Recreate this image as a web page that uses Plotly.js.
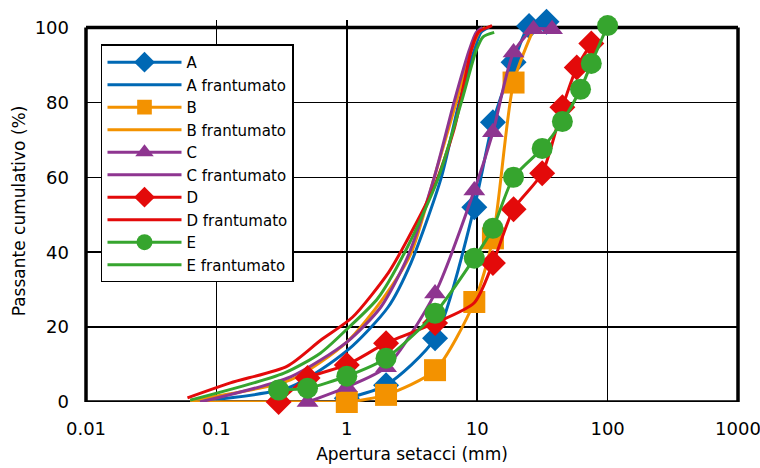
<!DOCTYPE html>
<html>
<head>
<meta charset="utf-8">
<script src="https://cdn.plot.ly/plotly-3.0.1.min.js"></script>
<style>html,body{margin:0;padding:0;background:#fff;}#chart{width:760px;height:468px;}</style>
</head>
<body>
<div id="chart"></div>
<script>
// ---- Data ----
// Sample A (markers)
const A_x = [1, 2, 4.75, 9.5, 13.2, 19, 25, 34];
const A_y = [1, 4.5, 17, 52, 74.7, 90.7, 100.4, 101.5];
// A frantumato
const AF_x = [0.063, 0.37, 1.02, 2.07, 3.1, 5.28, 7.27, 9.48, 10.7, 12.3];
const AF_y = [0, 4, 13.9, 25.3, 37.1, 59.7, 80, 93.9, 98.7, 100];
// Sample B
const B_x = [0.063, 0.5, 1, 2, 4.75, 9.5, 13.2, 19, 27];
const B_y = [0, 0, 0, 1.9, 8.5, 26.7, 43.7, 85.3, 99.5];
const B_hidden = [true, true, false, false, false, false, false, false, true];
// B frantumato
const BF_x = [0.063, 0.37, 1.0, 1.9, 3.1, 4.66, 6.9, 9.0, 10.4, 11.5];
const BF_y = [0.5, 5.9, 16, 27.7, 39.6, 59.7, 80, 93.9, 99, 100];
// Sample C
const C_x = [0.5, 1, 2, 4.75, 9.5, 13.2, 19, 27, 37.5];
const C_y = [0, 4, 9.3, 29, 56.5, 72, 93.3, 99.5, 99.5];
// C frantumato
const CF_x = [0.075, 0.37, 1.0, 1.82, 2.94, 4.66, 6.64, 8.68, 9.83, 11];
const CF_y = [0, 6.7, 16, 25.3, 38.9, 59.7, 80, 93.9, 98.7, 100];
// Sample D
const D_x = [0.3, 0.5, 1, 2, 4.75, 9.5, 13.2, 19, 31.5, 45, 58, 75];
const D_y = [0, 6.4, 9.9, 15.7, 21.1, 26.5, 37.1, 51.5, 61.1, 78.7, 89.3, 95.7];
const D_hidden = [false, false, false, false, false, true, false, false, false, false, false, false];
// D frantumato
const DF_x = [0.06, 0.128, 0.35, 0.63, 1.11, 2.1, 2.9, 4.66, 6.7, 9.0, 10.2, 13];
const DF_y = [1.1, 5.1, 9.6, 16.5, 22.7, 34.7, 43.2, 57.3, 73.3, 93.9, 98.7, 100.5];
// Sample E
const E_x = [0.3, 0.5, 1, 2, 4.75, 9.5, 13.2, 19, 31.5, 45, 62, 75, 100];
const E_y = [3.2, 3.7, 6.9, 11.7, 23.7, 38.4, 46.4, 60, 67.7, 74.9, 83.5, 90.4, 100.5];
// E frantumato
const EF_x = [0.063, 0.33, 0.63, 1.02, 1.73, 2.94, 5.01, 7.55, 9.83, 11.1, 13.5];
const EF_y = [0.5, 7.7, 13.1, 19.7, 27.7, 41.6, 59.7, 80, 93.9, 97.5, 98.7];

const xTickVals = [0.01, 0.1, 1, 10, 100, 1000];
const xTickText = ['0.01', '0.1', '1', '10', '100', '1000'];
const yTickVals = [0, 20, 40, 60, 80, 100];

// ---- Styles ----
const COL = {A:'#0068b4', B:'#f39200', C:'#8e3590', D:'#e30a0a', E:'#36a52e'};
const LW = 3;

function sizes(hidden, s){ return hidden.map(h => h ? 0 : s); }

function mk(name, x, y, color, symbol, size, group){
  return {type:'scatter', mode:'lines+markers', name, x, y, legendgroup:group,
    line:{color, width:LW, shape:'spline', smoothing:0.7},
    marker:{color, symbol, size, opacity:1, line:{width:0}}, cliponaxis:false};
}
function ln(name, x, y, color, group){
  return {type:'scatter', mode:'lines', name, x, y, legendgroup:group,
    line:{color, width:LW, shape:'spline', smoothing:0.7}, cliponaxis:false};
}

const traces = [
  mk('A', A_x, A_y, COL.A, 'diamond', 20, 'A'),
  ln('A frantumato', AF_x, AF_y, COL.A, 'A'),
  mk('B', B_x, B_y, COL.B, 'square', 22, 'B'),
  ln('B frantumato', BF_x, BF_y, COL.B, 'B'),
  mk('C', C_x, C_y, COL.C, 'triangle-up', 19, 'C'),
  ln('C frantumato', CF_x, CF_y, COL.C, 'C'),
  mk('D', D_x, D_y, COL.D, 'diamond', 20, 'D'),
  ln('D frantumato', DF_x, DF_y, COL.D, 'D'),
  mk('E', E_x, E_y, COL.E, 'circle', 21, 'E'),
  ln('E frantumato', EF_x, EF_y, COL.E, 'E')
];
traces[2].marker.size = sizes(B_hidden, 22);
traces[6].marker.size = sizes(D_hidden, 20);

const FONT = 'DejaVu Sans, sans-serif';
const frame = (x0, y0, x1, y1) => ({type:'line', xref:'paper', yref:'y', x0, y0, x1, y1,
  line:{color:'#000', width:3.5}, layer:'below'});
const layout = {
  width:760, height:468,
  margin:{l:86, r:22, t:19.5, b:66},
  paper_bgcolor:'#fff', plot_bgcolor:'#fff',
  font:{family:FONT, size:18, color:'#000'},
  showlegend:true,
  xaxis:{type:'log', range:[-2,3], tickvals:xTickVals, ticktext:xTickText,
    showgrid:true, gridcolor:'#000', gridwidth:1.5, zeroline:false,
    showline:false, ticks:'', ticklabeloverflow:'allow',
    ticklabelstandoff:14, layer:'below traces',
    title:{text:'Apertura setacci (mm)', font:{size:17}, standoff:10}},
  yaxis:{range:[0,102], tickvals:yTickVals,
    showgrid:true, gridcolor:'#000', gridwidth:1.5, zeroline:false,
    showline:false, ticks:'', ticklabeloverflow:'allow',
    ticklabelstandoff:16, layer:'below traces',
    title:{text:'Passante cumulativo (%)', font:{size:17}, standoff:4}},
  shapes:[frame(0,0,1,0), frame(0,100,1,100), frame(0,0,0,100), frame(1,0,1,100)],
  legend:{x:0.023, y:0.936, xanchor:'left', yanchor:'top',
    bgcolor:'#fff', bordercolor:'#000', borderwidth:1.5,
    font:{family:FONT, size:15}, traceorder:'grouped', tracegroupgap:0,
    itemwidth:74}
};

Plotly.newPlot('chart', traces, layout, {displayModeBar:false, staticPlot:true});
</script>
</body>
</html>
